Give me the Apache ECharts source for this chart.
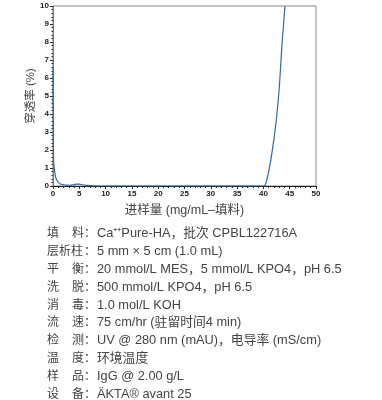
<!DOCTYPE html>
<html>
<head>
<meta charset="utf-8">
<script src="https://cdn.jsdelivr.net/npm/echarts@6/dist/echarts.min.js"></script>
<style>
  html, body { margin: 0; padding: 0; background: #fff; }
  #chart { width: 382px; height: 400px; }
</style>
</head>
<body>
<div id="chart"></div>
<script>
// Breakthrough curve: load (mg/mL resin) vs breakthrough (%)
const loadValues = [0, 0.04, 0.12, 0.3, 0.5, 0.7, 1.0, 1.5, 2.0, 2.6, 3.2, 3.8, 4.4, 5.0, 5.6, 6.4, 7.5, 10, 20, 30, 40.1, 40.6, 41.0, 41.5, 42.0, 42.5, 43.0, 43.5, 44.1];
const breakthroughValues = [6.6, 3.6, 1.4, 0.85, 0.5, 0.35, 0.2, 0.1, 0.07, 0.05, 0.04, 0.06, 0.1, 0.1, 0.07, 0.04, 0.01, 0, 0, 0, 0, 0.3, 0.8, 1.6, 2.6, 3.8, 5.4, 7.7, 10];

const xTickLabels = ['0', '5', '10', '15', '20', '25', '30', '35', '40', '45', '50'];
const yTickLabels = ['0', '1', '2', '3', '4', '5', '6', '7', '8', '9', '10'];

const xAxisName = '进样量 (mg/mL–填料)';
const yAxisName = '穿透率 (%)';

// Experimental conditions listed under the chart
const conditionLabels = ['填料', '层析柱', '平衡', '洗脱', '消毒', '流速', '检测', '温度', '样品', '设备'];
const conditionValues = [
  'Ca⁺⁺Pure-HA，批次 CPBL122716A',
  '5 mm × 5 cm (1.0 mL)',
  '20 mmol/L MES，5 mmol/L KPO4，pH 6.5',
  '500 mmol/L KPO4，pH 6.5',
  '1.0 mol/L KOH',
  '75 cm/hr (驻留时间4 min)',
  'UV @ 280 nm (mAU)，电导率 (mS/cm)',
  '环境温度',
  'IgG @ 2.00 g/L',
  'ÄKTA® avant 25'
];

const chart = echarts.init(document.getElementById('chart'));

const tickFont = {
  fontFamily: '"Liberation Sans Narrow", "Liberation Sans", Arial, sans-serif',
  fontWeight: 'bold',
  fontSize: 8,
  color: '#222'
};
const textFont = '"Liberation Sans", "Noto Sans CJK SC", sans-serif';

// Condition rows drawn as text graphics
const rowTop = 228;
const rowStep = 17.8;
const graphics = [];
conditionLabels.forEach((lab, i) => {
  const y = rowTop + i * rowStep;
  if (lab.length === 2) {
    graphics.push({ type: 'text', left: 47, top: y, style: { text: lab[0], font: '12px ' + textFont, fill: '#444' } });
    graphics.push({ type: 'text', left: 72, top: y, style: { text: lab[1], font: '12px ' + textFont, fill: '#444' } });
  } else {
    graphics.push({ type: 'text', left: 47, top: y, style: { text: lab, font: '12px ' + textFont, fill: '#444' } });
  }
  graphics.push({ type: 'text', left: 84, top: y, style: { text: '：', font: '12px ' + textFont, fill: '#444' } });
  graphics.push({ type: 'text', left: 97, top: y - 0.5, style: { text: conditionValues[i], font: '12.8px ' + textFont, fill: '#444' } });
});

chart.setOption({
  animation: false,
  backgroundColor: '#fff',
  grid: {
    left: 53, right: 66, top: 6, bottom: 214,
    show: true, borderColor: '#888', borderWidth: 1, backgroundColor: 'transparent'
  },
  xAxis: {
    type: 'value', min: 0, max: 50, interval: 5,
    name: xAxisName, nameLocation: 'middle', nameGap: 18, nameMoveOverlap: false,
    nameTextStyle: { fontFamily: textFont, fontSize: 12.5, color: '#444' },
    axisLine: { lineStyle: { color: '#222', width: 1 } },
    axisTick: { show: true, length: 3, lineStyle: { color: '#222' } },
    minorTick: { show: true, splitNumber: 5, length: 2, lineStyle: { color: '#222' } },
    splitLine: { show: false },
    axisLabel: Object.assign({ margin: 4, formatter: (v) => xTickLabels[Math.round(v / 5)] }, tickFont)
  },
  yAxis: {
    type: 'value', min: 0, max: 10, interval: 1,
    name: yAxisName, nameLocation: 'middle', nameGap: 16, nameRotate: 90, nameMoveOverlap: false,
    nameTextStyle: { fontFamily: textFont, fontSize: 11.5, color: '#444' },
    axisLine: { lineStyle: { color: '#5a7f9f', width: 1 } },
    axisTick: { show: true, length: 3, lineStyle: { color: '#222' } },
    minorTick: { show: true, splitNumber: 5, length: 1.5, lineStyle: { color: '#222' } },
    splitLine: { show: false },
    axisLabel: Object.assign({ margin: 4, formatter: (v) => yTickLabels[Math.round(v)] }, tickFont)
  },
  series: [{
    type: 'line',
    data: loadValues.map((x, i) => [x, breakthroughValues[i]]),
    showSymbol: false,
    smooth: 0.3,
    clip: true,
    lineStyle: { color: '#2f6a99', width: 1.2 }
  }],
  graphic: graphics
});
</script>
</body>
</html>
